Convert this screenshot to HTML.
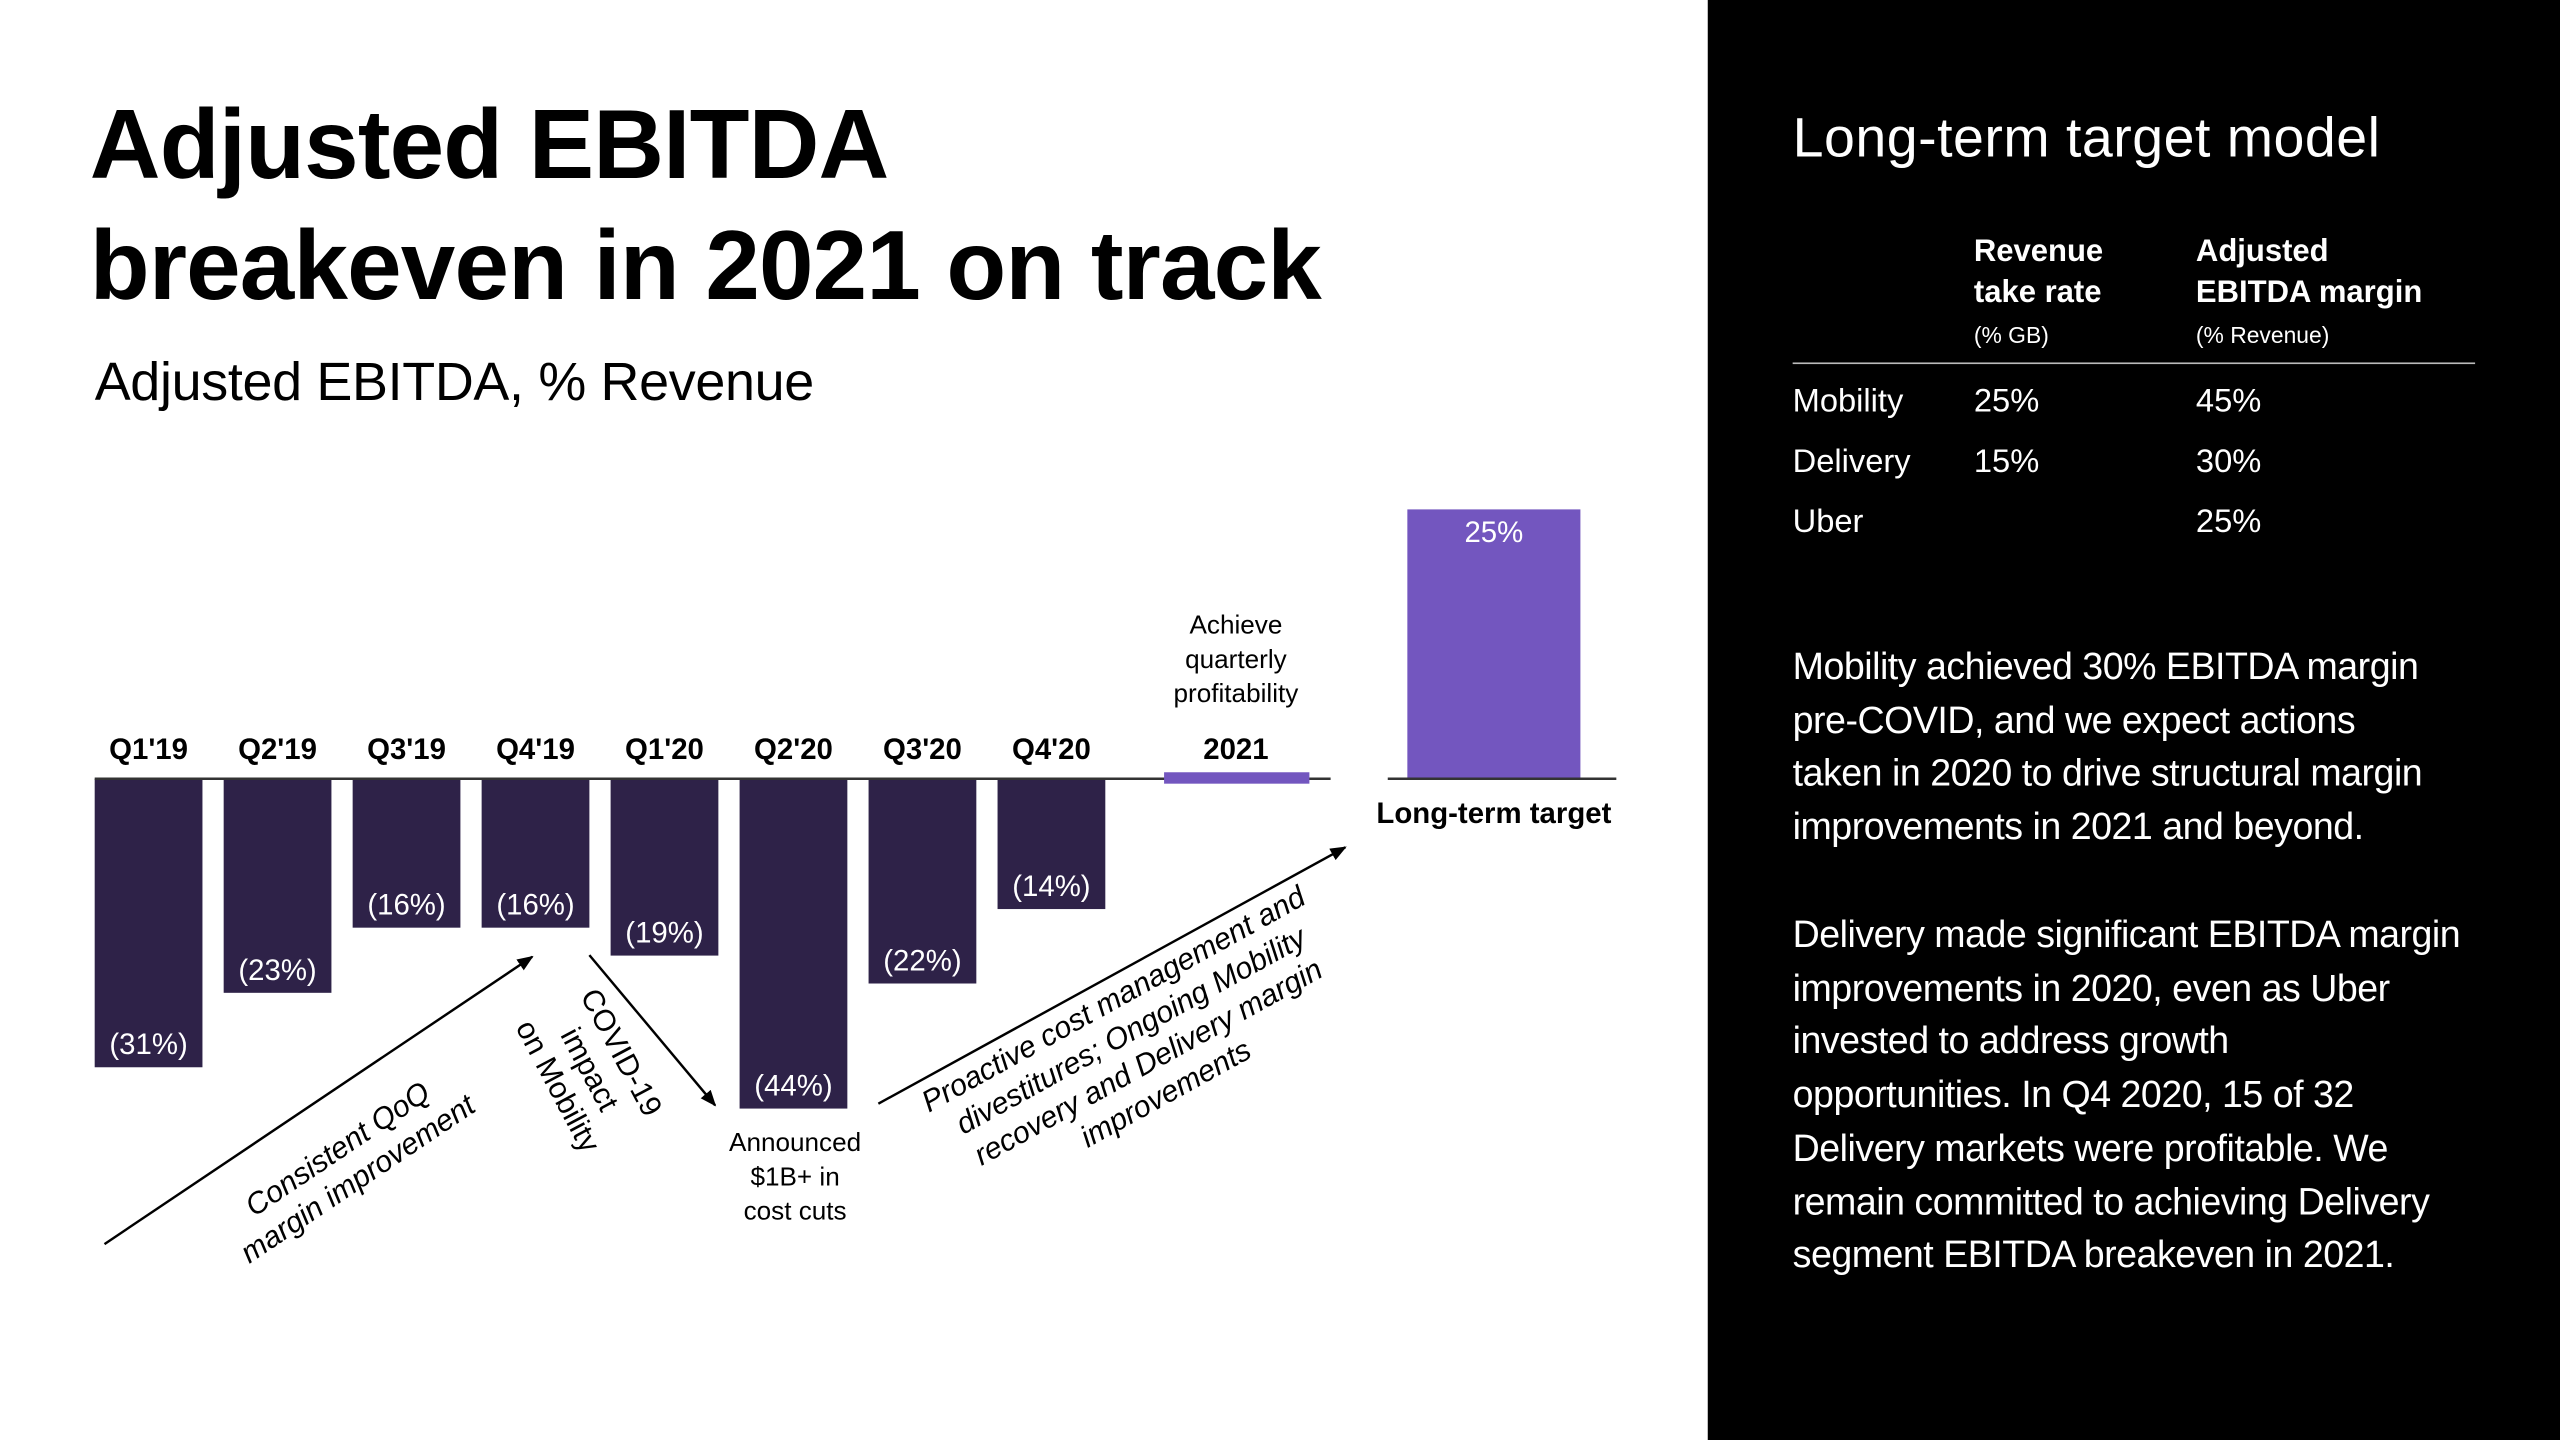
<!DOCTYPE html>
<html><head><meta charset="utf-8">
<style>
html,body{margin:0;padding:0;background:#fff;overflow:hidden}
#stage{position:absolute;left:0;top:0;width:1568px;height:882px;transform:scale(1.632653);transform-origin:0 0;font-family:"Liberation Sans",sans-serif}
.t{position:absolute;white-space:nowrap}
#panel{position:absolute;left:1046px;top:0;width:522px;height:882px;background:#000;color:#fff}
</style></head><body>
<div id="stage">
<div class="t" style="left:55px;top:52px;font-size:60px;line-height:74px;letter-spacing:-0.5px;font-weight:bold;color:#000">Adjusted EBITDA<br>breakeven in 2021 on track</div>
<div class="t" style="left:58px;top:215px;font-size:33px;letter-spacing:-0.2px;color:#000">Adjusted EBITDA, % Revenue</div>

<svg id="chart" style="position:absolute;left:0;top:0" width="1046" height="882"></svg>

<div id="panel">
<div class="t" style="left:52px;top:66px;font-size:34px;letter-spacing:0.3px">Long-term target model</div>
<div class="t" style="left:163px;top:142px;font-size:19px;line-height:25px;font-weight:bold">Revenue<br>take rate<br><span style="font-size:14px;font-weight:normal">(% GB)</span></div>
<div class="t" style="left:299px;top:142px;font-size:19px;line-height:25px;font-weight:bold">Adjusted<br>EBITDA margin<br><span style="font-size:14px;font-weight:normal">(% Revenue)</span></div>
<div style="position:absolute;left:52px;top:222px;width:418px;height:1px;background:#bbb"></div>
<div class="t" style="left:52px;top:235px;font-size:20px"><span>Mobility</span><span style="position:absolute;left:111px">25%</span><span style="position:absolute;left:247px">45%</span></div>
<div class="t" style="left:52px;top:272px;font-size:20px"><span>Delivery</span><span style="position:absolute;left:111px">15%</span><span style="position:absolute;left:247px">30%</span></div>
<div class="t" style="left:52px;top:309px;font-size:20px"><span>Uber</span><span style="position:absolute;left:247px">25%</span></div>
<div class="t" style="left:52px;top:392px;font-size:23px;line-height:32.7px;letter-spacing:-0.3px">Mobility achieved 30% EBITDA margin<br>pre-COVID, and we expect actions<br>taken in 2020 to drive structural margin<br>improvements in 2021 and beyond.</div>
<div class="t" style="left:52px;top:556px;font-size:23px;line-height:32.7px;letter-spacing:-0.3px">Delivery made significant EBITDA margin<br>improvements in 2020, even as Uber<br>invested to address growth<br>opportunities. In Q4 2020, 15 of 32<br>Delivery markets were profitable. We<br>remain committed to achieving Delivery<br>segment EBITDA breakeven in 2021.</div>
</div>
</div>
<script>
const categories=["Q1'19","Q2'19","Q3'19","Q4'19","Q1'20","Q2'20","Q3'20","Q4'20"];
const values=[-31,-23,-16,-16,-19,-44,-22,-14];
const valueLabels=["(31%)","(23%)","(16%)","(16%)","(19%)","(44%)","(22%)","(14%)"];
const year2021Label=["2021"];
const year2021Value=[0.7];
const targetLabel=["Long-term target"];
const targetValue=[25];

const NS="http://www.w3.org/2000/svg";
const svg=document.getElementById('chart');
const baseY=477, x0=58, step=79, bw=66;
const yq=v=>baseY+Math.min(-v*5.7,202); // broken axis for deep values
const yt=v=>baseY-v*6.6;
function mk(tag,attrs,txt){const e=document.createElementNS(NS,tag);for(const k in attrs)e.setAttribute(k,attrs[k]);if(txt!=null)e.textContent=txt;svg.appendChild(e);return e;}

categories.forEach((c,i)=>{
  const x=x0+i*step, yb=yq(values[i]);
  const r=mk('rect',{x:x,y:baseY,width:bw,height:yb-baseY,fill:'#2E2248'});
  
  
  const l=mk('text',{x:x+bw/2,y:yb-8,'text-anchor':'middle','font-size':18,fill:'#fff','font-family':'Liberation Sans'},valueLabels[i]);
  
  
  const t=mk('text',{x:x+bw/2,y:465,'text-anchor':'middle','font-size':18,'font-weight':'bold',fill:'#000','font-family':'Liberation Sans'},c);
  
  
});
const bl=mk('line',{x1:58,y1:baseY,x2:815,y2:baseY,stroke:'#333','stroke-width':1.5});


const b21=mk('rect',{x:713,y:baseY-year2021Value[0]*5.7,width:89,height:year2021Value[0]*5.7+3,fill:'#7356BF'});


const l21=mk('text',{x:757,y:465,'text-anchor':'middle','font-size':18,'font-weight':'bold',fill:'#000','font-family':'Liberation Sans'},year2021Label[0]);


['Achieve','quarterly','profitability'].forEach((s,i)=>{
  const a=mk('text',{x:757,y:388+i*21,'text-anchor':'middle','font-size':16,fill:'#000','font-family':'Liberation Sans'},s);
  
  
});
const tb=mk('rect',{x:862,y:yt(targetValue[0]),width:106,height:baseY-yt(targetValue[0]),fill:'#7356BF'});


const tv=mk('text',{x:915,y:yt(targetValue[0])+20,'text-anchor':'middle','font-size':18,fill:'#fff','font-family':'Liberation Sans'},targetValue[0]+'%');


const tl=mk('line',{x1:850,y1:baseY,x2:990,y2:baseY,stroke:'#333','stroke-width':1.5});


const tt=mk('text',{x:915,y:504,'text-anchor':'middle','font-size':18,'font-weight':'bold',fill:'#000','font-family':'Liberation Sans'},targetLabel[0]);


['Announced','$1B+ in','cost cuts'].forEach((s,i)=>{
  const a=mk('text',{x:487,y:705+i*21,'text-anchor':'middle','font-size':16,fill:'#000','font-family':'Liberation Sans'},s);
  
  
});
const defs=mk('defs',{});
defs.innerHTML='<marker id="ah" markerWidth="10" markerHeight="8" refX="9" refY="4" orient="auto" markerUnits="userSpaceOnUse"><path d="M0,0 L10,4 L0,8 z" fill="#000"/></marker>';
[[64,762,326,586,'arrow-margin-improvement'],[361,585,438,677,'arrow-covid-impact'],[538,676,824,519,'arrow-cost-management']].forEach(a=>{
  const l=mk('line',{x1:a[0],y1:a[1],x2:a[2],y2:a[3],stroke:'#000','stroke-width':1.5,'marker-end':'url(#ah)'});
  
  
});
function rot(lines,cx,cy,ang,name,fs,st){
  const g=mk('g',{transform:`translate(${cx},${cy}) rotate(${ang})`});
  
  
  const n=lines.length;
  lines.forEach((s,i)=>{const t=document.createElementNS(NS,'text');t.setAttribute('x',0);t.setAttribute('y',(i-(n-1)/2)*22+6);t.setAttribute('text-anchor','middle');t.setAttribute('font-size',fs);t.setAttribute('font-style',st);t.setAttribute('font-family','Liberation Sans');t.textContent=s;g.appendChild(t);});
}
rot(['Consistent QoQ','margin improvement'],213,713,-34,'margin-improvement-note',18.5,'italic');
rot(['COVID-19','impact','on Mobility'],361,655,62,'covid-impact-note',18.5,'normal');
rot(['Proactive cost management and','divestitures; Ongoing Mobility','recovery and Delivery margin','improvements'],698,641,-29,'cost-management-note',18.5,'italic');
</script>
</body></html>
